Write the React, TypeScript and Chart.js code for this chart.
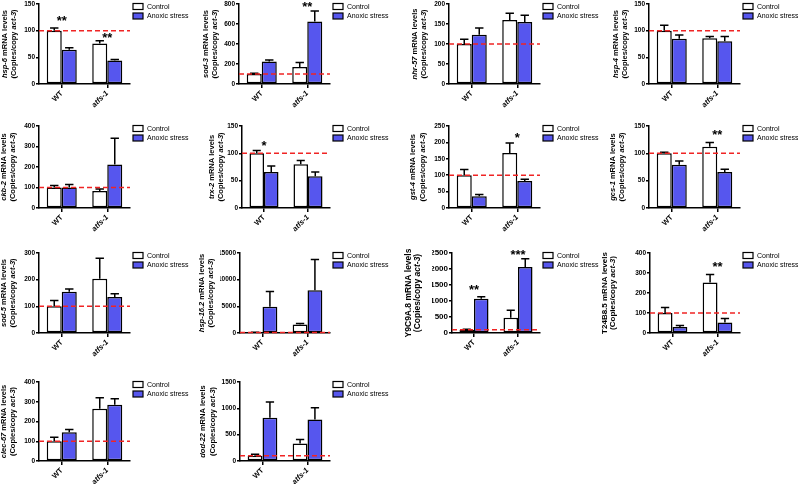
import React, { useEffect, useRef } from 'react';
import { Chart, registerables } from 'chart.js';

Chart.register(...registerables);

// ---------- data ----------
const groups = ['WT', 'atfs-1'];
const genes = ['hsp-6', 'sod-3', 'nhr-57', 'hsp-4', 'ckb-2', 'trx-2', 'gst-4', 'gcs-1', 'sod-5', 'hsp-16.2', 'Y9C9A.8', 'T24B8.5', 'clec-67', 'dod-22'];
const geneItalic = [true, true, true, true, true, true, true, true, true, true, false, false, true, true];
const seriesNames = ['Control', 'Anoxic stress'];
const controlMean = [[100, 76], [100, 170], [100, 160], [100, 86], [100, 83], [100, 80], [100, 168], [100, 112], [100, 203], [100, 1600], [100, 480], [100, 253], [100, 265], [100, 330]];
const controlErr = [[5, 5], [8, 45], [12, 17], [10, 3], [10, 10], [5, 7], [17, 30], [2, 8], [22, 77], [60, 200], [20, 230], [28, 40], [20, 55], [30, 80]];
const anoxicMean = [[64, 44], [225, 625], [123, 155], [85, 80], [100, 212], [66, 58], [36, 82], [79, 66], [155, 135], [4900, 8000], [1070, 2060], [30, 52], [145, 285], [820, 790]];
const anoxicErr = [[4, 2], [15, 105], [17, 17], [7, 9], [15, 128], [11, 8], [5, 6], [7, 5], [10, 12], [2900, 5800], [60, 260], [8, 20], [15, 30], [300, 220]];
const yMax = [150, 800, 200, 150, 400, 150, 250, 150, 300, 15000, 2500, 400, 400, 1500];
const yStep = [50, 200, 50, 50, 100, 50, 50, 50, 100, 5000, 500, 100, 100, 500];
const referenceLevel = 100;
// significance marks: [panel, group index, text, value]
const starPanel = [0, 0, 1, 5, 6, 7, 10, 10, 11];
const starGroup = [0, 1, 1, 0, 1, 1, 0, 1, 1];
const starText = ['**', '**', '**', '*', '*', '**', '**', '***', '**'];
const starValue = [125, 94, 810, 121, 226, 141, 1478, 2570, 349];

// ---------- layout / style ----------
const FONT = '"Liberation Sans", Arial, Helvetica, sans-serif';
const BLUE = '#5656EE';
const RED = '#F02424';
const axisX = [39, 239, 449, 649, 39, 242, 449, 649, 39, 240, 452, 650, 39, 240];
const colAxisEnd = [130, 330, 540, 740];
const rowTopPx = [4, 126, 253, 382];
const rowZeroPx = [84, 208, 333, 461];
const titleOff1 = [-34, -33, -34, -33, -35, -30, -36, -36, -35, -38, -43, -45, -35, -37];
const titleOff2 = [-25, -24, -25, -24, -26, -21, -26, -27, -26, -29, -34, -37, -26, -27];
const titleSize = [7.5, 7.5, 7.5, 7.5, 7.5, 7.5, 7.5, 7.5, 7.5, 7.5, 8.5, 8, 7.5, 7.5];
const tickSize = [6.5, 6.5, 6.5, 6.5, 6.5, 6.5, 6.5, 6.5, 6.5, 6.5, 8, 6.5, 6.5, 6.5];
const YW = 20;
const XH = 30;
const PAD_TOP = 12;

Chart.defaults.font.family = FONT;
Chart.defaults.color = '#000';

function drawMixed(ctx: CanvasRenderingContext2D, segs: [string, boolean][], cx: number, cy: number, size: number) {
  ctx.save();
  ctx.translate(cx, cy);
  ctx.rotate(-Math.PI / 2);
  const fonts = segs.map(([, it]) => `${it ? 'italic ' : ''}bold ${size}px ${FONT}`);
  let total = 0;
  const widths = segs.map(([t], k) => {
    ctx.font = fonts[k];
    const w = ctx.measureText(t).width;
    total += w;
    return w;
  });
  let x = -total / 2;
  ctx.textBaseline = 'middle';
  ctx.textAlign = 'left';
  ctx.fillStyle = '#000';
  segs.forEach(([t], k) => {
    ctx.font = fonts[k];
    ctx.fillText(t, x, 0);
    x += widths[k];
  });
  ctx.restore();
}

function makeDecor(i: number, canvasLeft: number) {
  return {
    id: 'decor' + i,
    afterDraw(chart: any) {
      const ctx: CanvasRenderingContext2D = chart.ctx;
      const { left, right, top, bottom } = chart.chartArea;
      const ys = chart.scales.y;
      const xs = chart.scales.x;
      const means = [controlMean[i], anoxicMean[i]];
      const errs = [controlErr[i], anoxicErr[i]];
      // error bars
      ctx.save();
      ctx.strokeStyle = '#000';
      ctx.lineWidth = 1.5;
      for (let d = 0; d < 2; d++) {
        const meta = chart.getDatasetMeta(d);
        meta.data.forEach((bar: any, j: number) => {
          const y0 = ys.getPixelForValue(means[d][j]);
          const y1 = ys.getPixelForValue(means[d][j] + errs[d][j]);
          const x = bar.x;
          const cap = bar.width * 0.28;
          ctx.beginPath();
          ctx.moveTo(x, y0);
          ctx.lineTo(x, y1);
          ctx.moveTo(x - cap, y1);
          ctx.lineTo(x + cap, y1);
          ctx.stroke();
        });
      }
      ctx.restore();
      // reference dashed line
      ctx.save();
      const yr = ys.getPixelForValue(referenceLevel);
      ctx.strokeStyle = RED;
      ctx.lineWidth = 1.5;
      ctx.setLineDash([5, 3]);
      ctx.beginPath();
      ctx.moveTo(left, yr);
      ctx.lineTo(right, yr);
      ctx.stroke();
      ctx.restore();
      // stars
      ctx.save();
      ctx.fillStyle = '#000';
      ctx.font = `bold 13px ${FONT}`;
      ctx.textAlign = 'center';
      ctx.textBaseline = 'alphabetic';
      starPanel.forEach((p, k) => {
        if (p !== i) return;
        const x = xs.getPixelForValue(starGroup[k]);
        const y = ys.getPixelForValue(starValue[k]);
        ctx.fillText(starText[k], x, y + 13 * 0.6);
      });
      ctx.restore();
      // legend
      ctx.save();
      const lx = right + 3;
      const colors = ['#FFFFFF', BLUE];
      seriesNames.forEach((name, k) => {
        const cy = top + 2.5 + k * 9.5;
        ctx.fillStyle = colors[k];
        ctx.fillRect(lx, cy - 3, 10, 6);
        ctx.strokeStyle = '#000';
        ctx.lineWidth = 1.2;
        ctx.strokeRect(lx, cy - 3, 10, 6);
        ctx.fillStyle = '#000';
        ctx.font = `7px ${FONT}`;
        ctx.textAlign = 'left';
        ctx.textBaseline = 'middle';
        ctx.fillText(name, lx + 14, cy + 0.5);
      });
      ctx.restore();
      // y title (mixed italic)
      const cyT = (top + bottom) / 2;
      drawMixed(ctx, [[genes[i], geneItalic[i]], [' mRNA levels', false]], axisX[i] + titleOff1[i] - canvasLeft, cyT, titleSize[i]);
      drawMixed(ctx, [['(Copies/copy ', false], ['act-3', true], [')', false]], axisX[i] + titleOff2[i] - canvasLeft, cyT, titleSize[i]);
    },
  };
}

function Panel({ i }: { i: number }) {
  const ref = useRef<HTMLCanvasElement>(null);
  const col = i % 4;
  const row = Math.floor(i / 4);
  const left = col === 0 ? 0 : col * 200 - 10;
  const width = (col === 3 ? 798 : col * 200 + 200) - left;
  const top = rowTopPx[row] - PAD_TOP;
  const height = rowZeroPx[row] + 36 - top;
  useEffect(() => {
    const padBottom = height - PAD_TOP - (rowZeroPx[row] - rowTopPx[row]) - XH;
    const chart = new Chart(ref.current as HTMLCanvasElement, {
      type: 'bar',
      data: {
        labels: groups,
        datasets: [
          {
            label: seriesNames[0],
            data: controlMean[i],
            backgroundColor: '#FFFFFF',
            borderColor: '#000',
            borderWidth: 1.5,
            borderSkipped: false,
            categoryPercentage: 0.66,
            barPercentage: 1,
          },
          {
            label: seriesNames[1],
            data: anoxicMean[i],
            backgroundColor: BLUE,
            borderColor: '#000',
            borderWidth: 1.5,
            borderSkipped: false,
            categoryPercentage: 0.66,
            barPercentage: 1,
          },
        ],
      },
      options: {
        animation: false,
        responsive: false,
        devicePixelRatio: 1,
        layout: {
          padding: {
            left: axisX[i] - left - YW,
            right: left + width - colAxisEnd[col],
            top: PAD_TOP,
            bottom: padBottom,
          },
        },
        plugins: { legend: { display: false }, tooltip: { enabled: false } },
        scales: {
          x: {
            offset: true,
            grid: { display: true, drawOnChartArea: false, offset: false, tickLength: 4, color: '#000', lineWidth: 1.5 },
            border: { display: true, color: '#000', width: 1.5 },
            ticks: {
              maxRotation: 45,
              minRotation: 45,
              padding: 1,
              color: '#000',
              font: (c: any) => ({ family: FONT, size: 7.5, weight: 'bold', style: c.index === 1 ? 'italic' : 'normal' }),
            },
            afterFit: (s: any) => {
              s.height = XH;
            },
          },
          y: {
            min: 0,
            max: yMax[i],
            grid: { display: true, drawOnChartArea: false, tickLength: 3, color: '#000', lineWidth: 1.5 },
            border: { display: true, color: '#000', width: 1.5 },
            ticks: {
              stepSize: yStep[i],
              padding: 1,
              color: '#000',
              font: { family: FONT, size: tickSize[i], weight: 'bold' },
              callback: (v: any) => String(v),
            },
            afterFit: (s: any) => {
              s.width = YW;
            },
          },
        },
      },
      plugins: [makeDecor(i, left)],
    } as any);
    return () => chart.destroy();
  }, []);
  return (
    <canvas
      ref={ref}
      width={width}
      height={height}
      style={{ position: 'absolute', left, top, width, height, display: 'block' }}
    />
  );
}

export default function App() {
  return (
    <div
      style={{
        position: 'absolute',
        left: 0,
        top: 0,
        width: 798,
        height: 484,
        overflow: 'hidden',
        background: '#fff',
      }}
    >
      {genes.map((g, i) => (
        <Panel key={g} i={i} />
      ))}
    </div>
  );
}
